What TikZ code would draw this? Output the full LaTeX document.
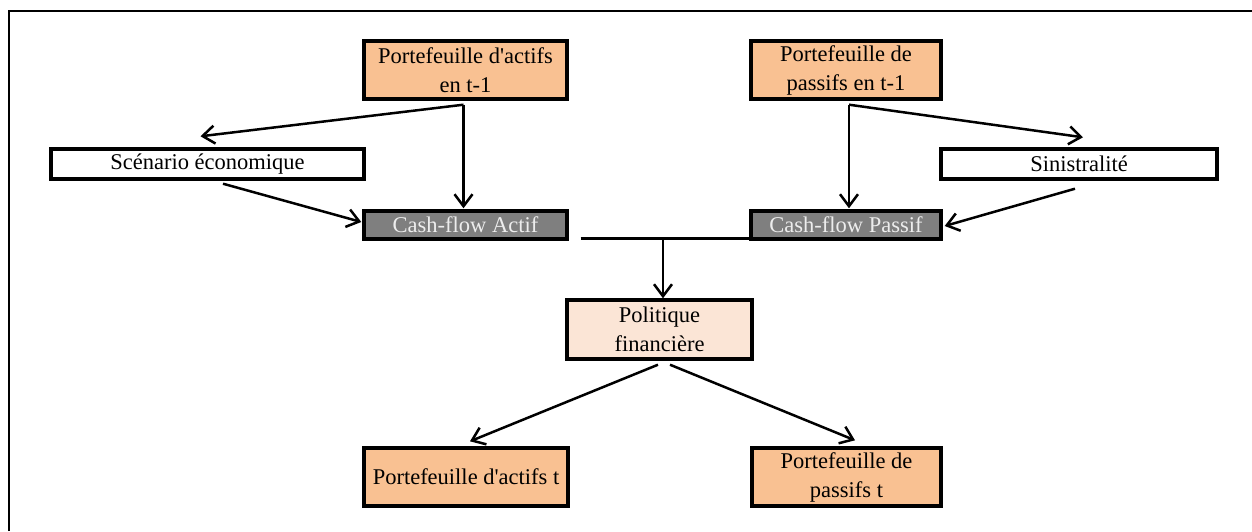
\documentclass[tikz,border=0pt]{standalone}
\usepackage{fontspec}
\newfontfamily\boxfont{Liberation Serif}
\usetikzlibrary{arrows.meta,calc}
\definecolor{orangebox}{HTML}{F9C192}
\definecolor{peachbox}{HTML}{FBE5D6}
\definecolor{greybox}{HTML}{7F7F7F}
\definecolor{greytext}{HTML}{EDEDED}
\tikzset{
  basebox/.style={draw=black, line width=3.4pt, inner sep=0pt, align=center,
    font=\boxfont\fontsize{22.5}{29}\selectfont},
  orangenode/.style={basebox, fill=orangebox},
  peachnode/.style={basebox, fill=peachbox},
  whitenode/.style={basebox, fill=white},
  greynode/.style={basebox, fill=greybox, text=greytext},
  arr/.style={draw=black, line width=2.5pt, -{Straight Barb[length=12pt,width=18pt]}},
  plainline/.style={draw=black, line width=2.5pt},
  frameline/.style={draw=black, line width=2.4pt}
}
\begin{document}
\begin{tikzpicture}[x=1pt, y=-1pt]
\useasboundingbox (0,0) rectangle (1252,531);
\draw[frameline] (9,531) -- (9,11) -- (1253,11);

\node[orangenode, minimum width=203pt, minimum height=58pt] (A1) at (465.5,70) {Portefeuille d'actifs\\en t-1};
\node[orangenode, minimum width=190pt, minimum height=58pt] (P1) at (846,70) {Portefeuille de\\passifs en t-1};
\node[whitenode, minimum width=313pt, minimum height=30pt] (scen) at (207.5,164) {Scénario économique};
\node[whitenode, minimum width=276pt, minimum height=30pt] (sin) at (1079,164) {Sinistralité};
\node[greynode, minimum width=203pt, minimum height=28pt] (cfa) at (465.5,225) {Cash-flow Actif};
\node[greynode, minimum width=190pt, minimum height=28pt] (cfp) at (846,225) {Cash-flow Passif};
\node[peachnode, minimum width=185pt, minimum height=59pt] (pol) at (659.5,329.5) {Politique\\financière};
\node[orangenode, minimum width=204pt, minimum height=58pt] (At) at (466,477) {Portefeuille d'actifs t};
\node[orangenode, minimum width=189pt, minimum height=58pt] (Pt) at (846.5,477) {Portefeuille de\\passifs t};

% from assets portfolio
\draw[arr] ($(A1.south)+(-2,4)$) -- ($(scen.north)+(-7,-11)$);
\draw[arr] ($(A1.south)+(-2,4)$) -- ($(cfa.north)+(-2,-1)$);
\draw[arr] ($(scen.south)+(15.5,3)$) -- ($(cfa.west)+(-1,-3)$);

% from liabilities portfolio
\draw[arr] ($(P1.south)+(3,4)$) -- ($(sin.north)+(4,-10)$);
\draw[arr] ($(P1.south)+(3,4)$) -- ($(cfp.north)+(3,-1)$);
\draw[arr] ($(sin.south)+(-4,8)$) -- ($(cfp.east)+(2,1)$);

% merge to financial policy
\coordinate (J) at (663,238);
\draw[plainline] ($(cfa.south east)+(12,-2)$) -- ($(cfp.south west)+(0,-2)$);
\draw[arr] (J) -- (J |- pol.north);

% to next portfolios
\draw[arr] ($(pol.south)+(-1.5,4)$) -- ($(At.north)+(4,-5)$);
\draw[arr] ($(pol.south)+(10.5,4)$) -- ($(Pt.north)+(8.5,-6)$);
\end{tikzpicture}
\end{document}
